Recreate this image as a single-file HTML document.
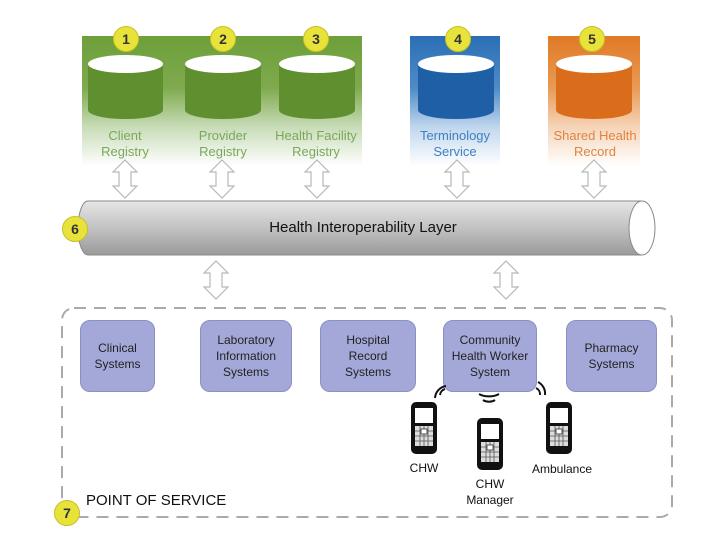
<!DOCTYPE html>
<html><head><style>
body{margin:0;width:720px;height:540px;background:#fff;overflow:hidden;position:relative;font-family:"Liberation Sans",sans-serif}
.a{position:absolute}
.band{position:absolute;top:36px;height:130px}
.badge{position:absolute;width:24px;height:24px;border-radius:50%;background:#e8e33a;border:1px solid #c8c020;font:bold 14px "Liberation Sans",sans-serif;text-align:center;line-height:24px;color:#333}
.lbl{position:absolute;font-size:13px;text-align:center;line-height:16px;width:110px}
.box{position:absolute;top:320px;height:70px;background:#a3a8d8;border:1px solid #8a90c4;border-radius:10px;font-size:12px;color:#222;display:flex;align-items:center;justify-content:center;text-align:center;line-height:16px}
.t{position:absolute;font-size:12px;color:#111;text-align:center}
</style></head><body>
<div class="band" style="left:82px;width:280px;background:linear-gradient(#6d9f3a 0%,#7faa4e 40%,#c8dcb8 70%,#fff 100%)"></div>
<div class="band" style="left:410px;width:90px;background:linear-gradient(#2a6fb5 0%,#4f8bc6 40%,#c0d6ee 70%,#fff 100%)"></div>
<div class="band" style="left:548px;width:92px;background:linear-gradient(#e07a25 0%,#e99a55 40%,#f6d4b8 70%,#fff 100%)"></div>
<svg class="a" style="left:0;top:0" width="720" height="540">
<defs>
<linearGradient id="pipe" x1="0" y1="0" x2="0" y2="1"><stop offset="0" stop-color="#e6e6e6"/><stop offset="0.5" stop-color="#c2c2c2"/><stop offset="1" stop-color="#9a9a9a"/></linearGradient>
<g id="dar"><path d="M0,0 L12,12 L6,12 L6,26 L12,26 L0,38 L-12,26 L-6,26 L-6,12 L-12,12 Z" fill="#fff" stroke="#b8b8b8" stroke-width="1.2"/></g>
<g id="ph"><rect x="-13" y="0" width="26" height="52" rx="5" fill="#111"/><rect x="-9" y="6" width="18" height="15" fill="#fff"/><rect x="-9" y="24" width="18" height="20" fill="#ddd"/><path d="M-9,29h18M-9,34h18M-9,39h18M-4,24v20M0,24v20M4,24v20" stroke="#555" stroke-width="0.8"/><rect x="-3" y="27" width="6" height="5" fill="#fff" stroke="#333" stroke-width="0.8"/></g>
</defs>
<g fill="#5f8f2e">
<path d="M88,64 v46 a37.5,9 0 0 0 75,0 v-46z"/><ellipse cx="125.5" cy="64" rx="37.5" ry="9" fill="#fff"/>
<path d="M185,64 v46 a38,9 0 0 0 76,0 v-46z"/><ellipse cx="223" cy="64" rx="38" ry="9" fill="#fff"/>
<path d="M279,64 v46 a38,9 0 0 0 76,0 v-46z"/><ellipse cx="317" cy="64" rx="38" ry="9" fill="#fff"/>
</g>
<path d="M418,64 v46 a38,9 0 0 0 76,0 v-46z" fill="#1f5fa6"/><ellipse cx="456" cy="64" rx="38" ry="9" fill="#fff"/>
<path d="M556,64 v46 a38,9 0 0 0 76,0 v-46z" fill="#d96d1c"/><ellipse cx="594" cy="64" rx="38" ry="9" fill="#fff"/>
<use href="#dar" x="125" y="160"/><use href="#dar" x="222" y="160"/><use href="#dar" x="317" y="160"/><use href="#dar" x="457" y="160"/><use href="#dar" x="594" y="160"/>
<path d="M88,201 H642 V255 H88 A10,27 0 0 1 88,201Z" fill="url(#pipe)" stroke="#888"/>
<ellipse cx="642" cy="228" rx="13" ry="27" fill="#fff" stroke="#888"/>
<use href="#dar" x="216" y="261"/><use href="#dar" x="506" y="261"/>
<rect x="62" y="308" width="610" height="209" rx="12" fill="none" stroke="#aaa" stroke-width="2" stroke-dasharray="12,8"/>
<use href="#ph" x="424" y="402"/><use href="#ph" x="490" y="418"/><use href="#ph" x="559" y="402"/>
</svg>
<div class="badge" style="left:113px;top:26px">1</div>
<div class="badge" style="left:210px;top:26px">2</div>
<div class="badge" style="left:303px;top:26px">3</div>
<div class="badge" style="left:445px;top:26px">4</div>
<div class="badge" style="left:579px;top:26px">5</div>
<div class="badge" style="left:62px;top:216px">6</div>
<div class="badge" style="left:54px;top:500px">7</div>
<div class="lbl" style="left:70px;top:128px;color:#7aa85a">Client<br>Registry</div>
<div class="lbl" style="left:168px;top:128px;color:#7aa85a">Provider<br>Registry</div>
<div class="lbl" style="left:261px;top:128px;color:#7aa85a">Health Facility<br>Registry</div>
<div class="lbl" style="left:400px;top:128px;color:#3f7fc2">Terminology<br>Service</div>
<div class="lbl" style="left:540px;top:128px;color:#e08440">Shared Health<br>Record</div>
<div class="t" style="left:200px;top:219px;width:326px;font-size:15px">Health Interoperability Layer</div>
<div class="box" style="left:80px;width:73px">Clinical<br>Systems</div>
<div class="box" style="left:200px;width:90px">Laboratory<br>Information<br>Systems</div>
<div class="box" style="left:320px;width:94px">Hospital<br>Record<br>Systems</div>
<div class="box" style="left:443px;width:92px">Community<br>Health Worker<br>System</div>
<div class="box" style="left:566px;width:89px">Pharmacy<br>Systems</div>
<svg class="a" style="left:0;top:0" width="720" height="540">
<g fill="none" stroke="#111" stroke-width="2">
<path d="M440,395 a7,7 0 0 1 5,-6 M435,398 a13,13 0 0 1 11,-12"/>
<path d="M483,400 a8,5 0 0 0 12,0 M479,394 a14,8 0 0 0 20,0"/>
<path d="M536,388 a7,7 0 0 1 4,7 M538,382 a13,13 0 0 1 7,13"/>
</g>
</svg>
<div class="t" style="left:399px;top:461px;width:50px">CHW</div>
<div class="t" style="left:455px;top:476px;width:70px;line-height:16px">CHW<br>Manager</div>
<div class="t" style="left:522px;top:462px;width:80px">Ambulance</div>
<div class="a" style="left:86px;top:492px;font-size:15px;color:#111">POINT OF SERVICE</div>
</body></html>
